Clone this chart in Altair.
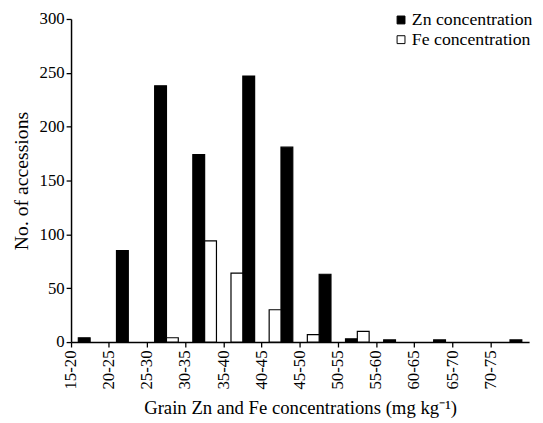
import altair as alt
import pandas as pd

groups = ["15-20", "20-25", "25-30", "30-35", "35-40", "40-45",
          "45-50", "50-55", "55-60", "60-65", "65-70", "70-75"]

# Zn concentration bars: group index, slot within group, count
zn_group = [0, 1, 2, 3, 4, 5, 6, 7, 8, 9, 11]
zn_slot = [0, 0, 0, 0, 1, 1, 1, 0, 0, 1, 1]
zn_val = [4, 85, 238, 174, 247, 181, 63, 3, 2, 2, 2]

# Fe concentration bars
fe_group = [2, 3, 4, 5, 6, 7]
fe_slot = [1, 1, 0, 0, 0, 1]
fe_val = [4, 94, 64, 30, 7, 10]

series = ["Zn concentration", "Fe concentration"]

rows = []
for g, s, v in zip(zn_group, zn_slot, zn_val):
    rows.append({"group": groups[g], "slot": s, "series": series[0], "value": v})
for g, s, v in zip(fe_group, fe_slot, fe_val):
    rows.append({"group": groups[g], "slot": s, "series": series[1], "value": v})
df = pd.DataFrame(rows)

FONT = "Liberation Serif"

chart = alt.Chart(df).mark_bar(stroke="black", strokeWidth=1.2).encode(
    x=alt.X("group:N", sort=groups,
            scale=alt.Scale(domain=groups, paddingInner=0, paddingOuter=0),
            axis=alt.Axis(title="Grain Zn and Fe concentrations (mg kg\u207b\u00b9)",
                          labelAngle=270, bandPosition=0, labelOffset=-19.4, tickSize=5,
                          labelPadding=3, titlePadding=10, labelFontSize=17, titleFontSize=19)),
    xOffset=alt.XOffset("slot:O", scale=alt.Scale(domain=[0, 1], paddingInner=0, paddingOuter=0.615)),
    y=alt.Y("value:Q", scale=alt.Scale(domain=[0, 300], nice=False),
            axis=alt.Axis(title="No. of accessions", values=[0, 50, 100, 150, 200, 250, 300],
                          tickSize=5, labelPadding=2, titlePadding=8, grid=False,
                          labelFontSize=17, titleFontSize=20)),
    fill=alt.Fill("series:N", scale=alt.Scale(domain=series, range=["black", "white"]),
                  legend=alt.Legend(title=None, orient="none", legendX=326, legendY=-8,
                                    symbolType="square", symbolSize=64, padding=0,
                                    symbolStrokeColor="black", symbolStrokeWidth=1,
                                    labelFont=FONT, labelFontSize=18, labelColor="black",
                                    rowPadding=2, labelOffset=2)),
).properties(
    width=465, height=328,
    autosize=alt.AutoSizeParams(type="none"),
    padding={"left": 64, "top": 8, "right": 6, "bottom": 79},
).configure_view(stroke=None).configure_axis(
    domainColor="black", domainWidth=1.5, tickColor="black", tickWidth=1.3,
    labelFont=FONT, labelColor="black",
    titleFont=FONT, titleFontWeight="normal", titleColor="black",
    grid=False,
)

chart.save("out.html", embed_options={"renderer": "svg", "actions": False})
